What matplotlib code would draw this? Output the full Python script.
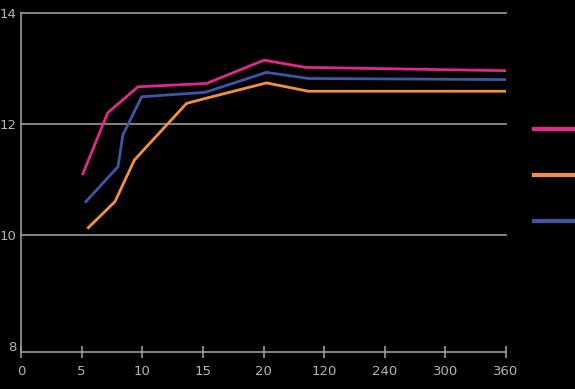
import matplotlib
matplotlib.use("Agg")
import matplotlib.pyplot as plt

x_labels = ["0", "5", "10", "15", "20", "120", "240", "300", "360"]
y_ticks = [8, 10, 12, 14]

pink_x = [1.02, 1.43, 1.93, 3.06, 4.01, 4.69, 8.0]
pink_y = [11.10, 12.20, 12.67, 12.73, 13.15, 13.02, 12.96]

orange_x = [1.11, 1.55, 1.87, 2.73, 3.04, 4.05, 4.74, 8.0]
orange_y = [10.13, 10.60, 11.35, 12.37, 12.46, 12.74, 12.59, 12.59]

blue_x = [1.07, 1.60, 1.68, 1.99, 3.04, 4.05, 4.74, 8.0]
blue_y = [10.60, 11.23, 11.80, 12.49, 12.57, 12.93, 12.82, 12.80]

colors = {"pink": "#e2288a", "orange": "#f5913a", "blue": "#3f56a6"}
txt = "#b4b4b4"
grid_c = "#9a9a9a"

fig = plt.figure(figsize=(5.75, 3.89), dpi=100, facecolor="black")
ax = fig.add_axes([21/575, 1-352/389, (506-21)/575, (352-13)/389])
ax.set_facecolor("black")

lines = []
for xs, ys, c in [(pink_x, pink_y, colors["pink"]),
                  (orange_x, orange_y, colors["orange"]),
                  (blue_x, blue_y, colors["blue"])]:
    l, = ax.plot(xs, ys, color=c, lw=2.0, solid_joinstyle="miter", zorder=3)
    lines.append(l)

ax.set_xlim(0, 8)
ax.set_ylim(7.89, 14)
ax.set_xticks(range(len(x_labels)))
ax.set_xticklabels(x_labels)
ax.set_yticks(y_ticks)
ax.set_yticklabels([str(v) for v in y_ticks])

for v in [10, 12, 14]:
    ax.axhline(v, color=grid_c, lw=1.2, zorder=1, clip_on=False)

for s in ["top", "right"]:
    ax.spines[s].set_visible(False)
ax.spines["left"].set_color(grid_c)
ax.spines["bottom"].set_color(grid_c)
ax.spines["left"].set_linewidth(1.2)
ax.spines["bottom"].set_linewidth(1.2)

ax.tick_params(axis="x", direction="inout", length=9, width=1.2, color=grid_c,
               labelcolor=txt, labelsize=9.5, pad=5)
ax.tick_params(axis="y", length=0, labelcolor=txt, labelsize=9.5, pad=3)

leg = fig.legend(lines, ["", "", ""], loc="upper left",
                 bbox_to_anchor=(528/575, 1-117/389), frameon=False,
                 handlelength=3.2, labelspacing=2.3, fontsize=10,
                 handletextpad=0, borderaxespad=0)
for h in leg.get_lines():
    h.set_linewidth(3)

fig.savefig("out.png", dpi=100, facecolor="black")
